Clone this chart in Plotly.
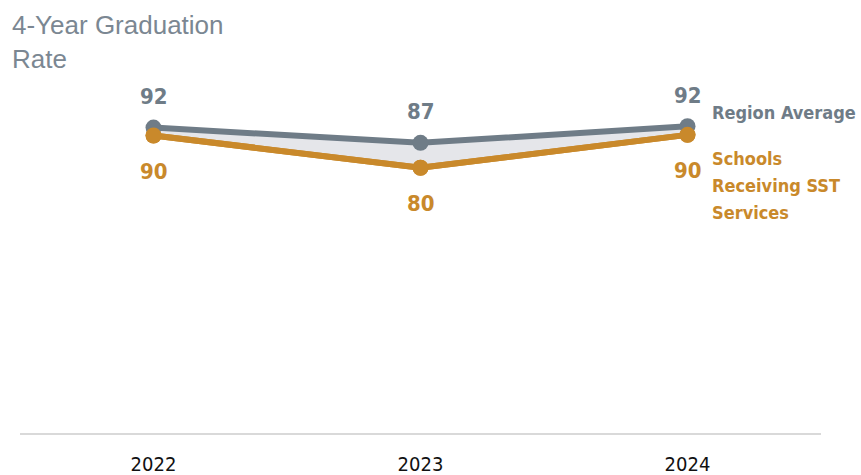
import plotly.graph_objects as go

years = ["2022", "2023", "2024"]
region_avg = [92.0, 87.4, 92.4]
sst_schools = [89.6, 79.9, 89.8]
region_name = "Region Average"
sst_name_lines = ["Schools", "Receiving SST", "Services"]
title_text = "4-Year Graduation<br>Rate"

GRAY = "#6f7c87"
ORANGE = "#c9892b"
FILL = "#e5e6ea"
FONT = "DejaVu Sans Condensed"

fig = go.Figure()
fig.add_trace(go.Scatter(
    x=years, y=sst_schools, mode="lines+markers",
    line=dict(color=ORANGE, width=6), marker=dict(size=16, color=ORANGE),
    showlegend=False, hoverinfo="skip"))
fig.add_trace(go.Scatter(
    x=years, y=region_avg, mode="lines+markers", fill="tonexty", fillcolor=FILL,
    line=dict(color=GRAY, width=6), marker=dict(size=16, color=GRAY),
    showlegend=False, hoverinfo="skip"))
fig.add_trace(go.Scatter(
    x=years, y=sst_schools, mode="lines+markers",
    line=dict(color=ORANGE, width=6), marker=dict(size=16, color=ORANGE),
    showlegend=False, hoverinfo="skip"))

annotations = []
for i, yv in enumerate(region_avg):
    annotations.append(dict(x=i, y=yv, xref="x", yref="y", text=f"{yv:.0f}",
                            showarrow=False, yshift=31,
                            font=dict(family=FONT, size=22, color=GRAY, weight="bold")))
for i, yv in enumerate(sst_schools):
    annotations.append(dict(x=i, y=yv, xref="x", yref="y", text=f"{yv:.0f}",
                            showarrow=False, yshift=-36,
                            font=dict(family=FONT, size=22, color=ORANGE, weight="bold")))

last = len(years) - 1
annotations.append(dict(x=last, y=region_avg[-1], xref="x", yref="y", text=region_name,
                        showarrow=False, xanchor="left", xshift=22, yshift=14,
                        font=dict(family=FONT, size=18, color=GRAY, weight="bold")))
for k, line in enumerate(sst_name_lines):
    annotations.append(dict(x=last, y=sst_schools[-1], xref="x", yref="y", text=line,
                            showarrow=False, xanchor="left", xshift=22, yshift=-24 - 27 * k,
                            font=dict(family=FONT, size=18, color=ORANGE, weight="bold")))
annotations.append(dict(x=-0.012, y=1.28, xref="paper", yref="paper", text=title_text,
                        showarrow=False, xanchor="left", yanchor="top", align="left",
                        font=dict(family="Liberation Sans", size=26, color="#7b8792")))

fig.update_layout(
    width=861, height=475,
    margin=dict(l=20, r=40, t=101, b=42),
    paper_bgcolor="white", plot_bgcolor="white",
    annotations=annotations,
    xaxis=dict(type="category", range=[-0.5, 2.5], showgrid=False, zeroline=False,
               showline=True, linecolor="#d9d9d9", linewidth=2, ticks="", automargin=False,
               tickfont=dict(family=FONT, size=20, color="#111111"), ticklabelstandoff=12),
    yaxis=dict(range=[0, 100], visible=False, showgrid=False, zeroline=False, automargin=False),
)

fig.write_html("out.html", config={"displayModeBar": False},
               post_script="document.body.style.margin='0px';")
